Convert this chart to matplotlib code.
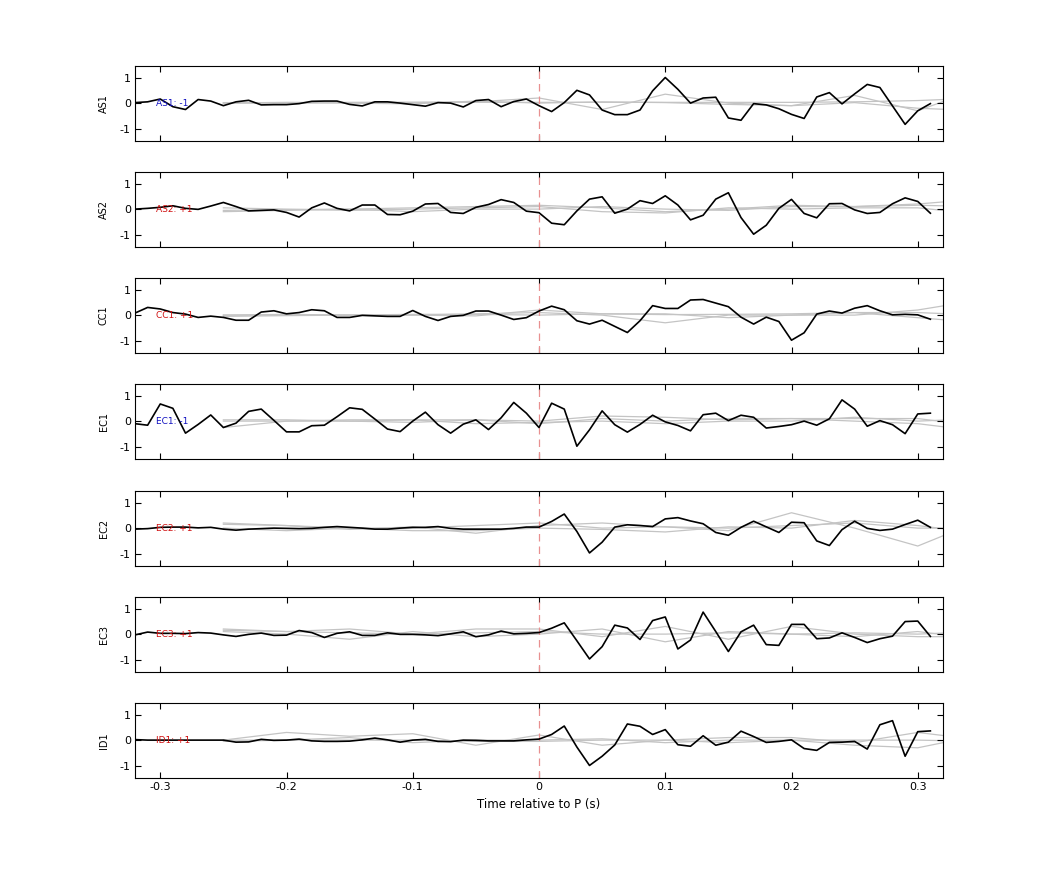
import numpy as np
import matplotlib
matplotlib.use("Agg")
import matplotlib.pyplot as plt

t = np.round(np.arange(-0.32, 0.315, 0.01), 2)  # 64 samples
knots = np.round(np.arange(-0.25, 0.351, 0.05), 2)

names = ["AS1", "AS2", "CC1", "EC1", "EC2", "EC3", "ID1"]
labels = ["AS1: -1", "AS2: +1", "CC1: +1", "EC1: -1", "EC2: +1", "EC3: +1", "ID1: +1"]
label_colors = ["#1010c0", "#d01010", "#d01010", "#1010c0", "#d01010", "#d01010", "#d01010"]

AS1 = [0.02, 0.05, 0.16, -0.14, -0.25, 0.14, 0.08, -0.1, 0.05, 0.11, -0.07, -0.06, -0.06, -0.02, 0.07, 0.08,
       0.08, -0.05, -0.11, 0.05, 0.05, 0.0, -0.06, -0.12, 0.02, 0.0, -0.15, 0.1, 0.14, -0.14, 0.06, 0.16,
       -0.1, -0.33, 0.02, 0.5, 0.32, -0.27, -0.45, -0.45, -0.27, 0.48, 1.0, 0.54, 0.0, 0.2, 0.23, -0.58,
       -0.67, -0.02, -0.07, -0.22, -0.44, -0.6, 0.24, 0.41, -0.03, 0.36, 0.73, 0.61, -0.11, -0.83, -0.3, -0.02]
AS2 = [0.0, 0.03, 0.07, 0.13, 0.03, -0.01, 0.12, 0.26, 0.1, -0.07, -0.05, -0.03, -0.13, -0.31, 0.05, 0.24,
       0.03, -0.07, 0.16, 0.16, -0.21, -0.22, -0.08, 0.2, 0.22, -0.13, -0.17, 0.07, 0.18, 0.37, 0.26, -0.08,
       -0.14, -0.55, -0.61, -0.07, 0.39, 0.48, -0.16, 0.0, 0.33, 0.22, 0.52, 0.16, -0.42, -0.24, 0.39, 0.64,
       -0.33, -0.98, -0.63, 0.03, 0.38, -0.17, -0.34, 0.21, 0.22, -0.03, -0.17, -0.13, 0.21, 0.44, 0.3, -0.16]
CC1 = [0.08, 0.3, 0.24, 0.1, 0.04, -0.09, -0.04, -0.09, -0.2, -0.2, 0.12, 0.17, 0.05, 0.1, 0.21, 0.17,
       -0.09, -0.09, -0.01, -0.03, -0.05, -0.05, 0.18, -0.05, -0.21, -0.05, -0.01, 0.16, 0.16, 0.0, -0.17, -0.1,
       0.16, 0.35, 0.21, -0.22, -0.35, -0.2, -0.44, -0.68, -0.22, 0.37, 0.26, 0.26, 0.59, 0.61, 0.47, 0.33,
       -0.08, -0.35, -0.08, -0.25, -0.98, -0.69, 0.04, 0.16, 0.08, 0.27, 0.37, 0.17, 0.01, 0.03, 0.01, -0.16]
EC1 = [-0.1, -0.16, 0.67, 0.5, -0.47, -0.13, 0.24, -0.25, -0.08, 0.38, 0.47, 0.03, -0.42, -0.42, -0.18, -0.16,
       0.17, 0.52, 0.46, 0.08, -0.31, -0.41, 0.0, 0.35, -0.14, -0.47, -0.12, 0.05, -0.33, 0.13, 0.73, 0.31,
       -0.25, 0.7, 0.47, -0.98, -0.34, 0.4, -0.14, -0.43, -0.13, 0.23, -0.03, -0.17, -0.38, 0.25, 0.31, 0.02,
       0.23, 0.15, -0.27, -0.21, -0.14, 0.0, -0.16, 0.09, 0.83, 0.47, -0.2, 0.02, -0.14, -0.49, 0.28, 0.31]
EC2 = [-0.04, -0.02, 0.03, 0.04, 0.04, 0.01, 0.03, -0.04, -0.08, -0.04, -0.02, 0.0, -0.01, -0.02, -0.01, 0.03,
       0.06, 0.03, 0.0, -0.04, -0.04, 0.0, 0.03, 0.03, 0.06, -0.01, -0.04, -0.04, -0.04, -0.04, -0.01, 0.04,
       0.04, 0.26, 0.55, -0.13, -0.97, -0.55, 0.04, 0.13, 0.1, 0.06, 0.36, 0.41, 0.28, 0.17, -0.17, -0.28,
       0.03, 0.27, 0.05, -0.17, 0.23, 0.21, -0.5, -0.68, -0.06, 0.27, -0.01, -0.09, -0.04, 0.14, 0.31, 0.03]
EC3 = [-0.03, 0.08, 0.03, 0.03, 0.02, 0.06, 0.04, -0.03, -0.09, -0.01, 0.04, -0.05, -0.04, 0.14, 0.06, -0.13,
       0.03, 0.09, -0.05, -0.05, 0.05, -0.01, -0.01, -0.03, -0.06, 0.01, 0.09, -0.1, -0.03, 0.12, 0.01, 0.03,
       0.06, 0.23, 0.44, -0.26, -0.97, -0.49, 0.35, 0.24, -0.21, 0.53, 0.67, -0.58, -0.23, 0.86, 0.1, -0.68,
       0.09, 0.35, -0.41, -0.44, 0.38, 0.38, -0.18, -0.15, 0.05, -0.13, -0.33, -0.18, -0.08, 0.49, 0.51, -0.09]
ID1 = [0.02, 0.0, 0.0, 0.0, 0.0, 0.0, 0.0, 0.0, -0.08, -0.07, 0.03, -0.01, 0.0, 0.04, -0.03, -0.05,
       -0.05, -0.04, 0.01, 0.08, 0.01, -0.08, 0.0, 0.03, -0.05, -0.06, 0.0, -0.01, -0.03, -0.03, -0.03, 0.01,
       0.04, 0.22, 0.55, -0.27, -0.99, -0.63, -0.19, 0.63, 0.54, 0.22, 0.41, -0.18, -0.24, 0.17, -0.2, -0.08,
       0.35, 0.14, -0.09, -0.05, 0.01, -0.33, -0.4, -0.09, -0.08, -0.05, -0.35, 0.6, 0.76, -0.63, 0.33, 0.36]
black_series = [AS1, AS2, CC1, EC1, EC2, EC3, ID1]

# gray reference curves, values at knots (-0.25 ... 0.35 step 0.05)
gray_AS1 = [[0.0, 0.0, 0.02, 0.03, 0.05, 0.2, -0.25, 0.35, 0.0, -0.1, 0.3, -0.3, 0.6],
            [0.0, 0.03, 0.0, -0.03, 0.08, 0.0, 0.05, 0.02, -0.05, -0.1, 0.02, -0.2, -0.3],
            [0.02, 0.02, 0.03, 0.03, 0.03, 0.03, 0.03, 0.03, 0.03, 0.03, 0.05, 0.1, 0.2]]
gray_AS2 = [[-0.05, -0.02, 0.0, 0.05, 0.1, 0.15, 0.05, -0.1, 0.0, 0.15, 0.1, 0.2, 0.4],
            [0.05, 0.0, -0.05, 0.0, 0.05, 0.1, -0.1, -0.15, 0.05, 0.0, 0.05, 0.05, -0.2],
            [-0.1, -0.05, 0.0, -0.1, 0.0, 0.0, 0.1, 0.0, -0.05, 0.1, 0.1, 0.15, 0.1]]
gray_CC1 = [[0.0, 0.0, 0.0, 0.0, 0.05, 0.1, 0.0, -0.3, 0.0, 0.0, 0.0, 0.2, 0.6],
            [0.0, 0.03, 0.0, 0.0, -0.03, 0.2, 0.05, 0.02, 0.03, 0.05, 0.1, -0.1, -0.3],
            [-0.05, -0.02, 0.0, 0.03, 0.03, 0.0, 0.05, 0.05, -0.1, 0.0, 0.1, 0.1, 0.0]]
gray_EC1 = [[-0.25, 0.0, 0.05, 0.05, 0.05, 0.0, 0.2, 0.15, 0.05, 0.1, 0.0, -0.1, -0.4],
            [0.0, 0.0, 0.0, -0.05, 0.05, -0.1, 0.1, 0.0, 0.1, 0.1, 0.1, 0.1, -0.2],
            [0.05, 0.05, 0.0, 0.05, -0.1, -0.05, 0.0, -0.1, 0.0, 0.0, 0.15, 0.0, 0.1]]
gray_EC2 = [[0.2, 0.1, -0.05, 0.05, -0.2, 0.1, 0.2, 0.05, -0.1, 0.6, 0.0, -0.7, 0.3],
            [0.0, -0.1, 0.0, -0.1, -0.1, 0.0, -0.05, -0.15, 0.05, 0.0, 0.3, 0.1, -0.2],
            [0.15, 0.1, 0.0, 0.0, 0.1, 0.2, 0.0, 0.05, 0.0, 0.1, 0.2, 0.0, 0.0]]
gray_EC3 = [[0.2, 0.1, 0.2, 0.0, 0.2, 0.2, -0.1, 0.3, -0.2, 0.3, 0.0, -0.1, -0.1],
            [0.1, 0.0, -0.2, 0.1, -0.1, 0.0, 0.2, -0.3, 0.1, 0.0, -0.1, 0.1, -0.2],
            [0.15, 0.1, 0.05, 0.0, 0.05, 0.1, 0.0, 0.0, 0.05, 0.0, 0.05, 0.0, 0.1]]
gray_ID1 = [[0.0, 0.3, 0.15, 0.25, -0.2, 0.2, -0.2, 0.0, 0.1, 0.1, -0.1, 0.3, 0.0],
            [0.0, 0.0, 0.1, -0.1, 0.0, 0.0, 0.05, -0.1, 0.0, 0.0, -0.2, -0.3, 0.2],
            [-0.05, 0.0, 0.0, 0.0, -0.05, -0.05, 0.0, 0.0, -0.1, 0.0, 0.0, 0.0, -0.05]]
gray_series = [gray_AS1, gray_AS2, gray_CC1, gray_EC1, gray_EC2, gray_EC3, gray_ID1]

xticks = [-0.3, -0.2, -0.1, 0, 0.1, 0.2, 0.3]
xticklabels = ["-0.3", "-0.2", "-0.1", "0", "0.1", "0.2", "0.3"]
yticks = [-1, 0, 1]

W, H = 1042, 875
fig = plt.figure(figsize=(W / 100, H / 100), dpi=100)
left, right = 135 / W, 943 / W
tops = [66, 172, 278, 384, 491, 597, 703]
ph = 75
for i in range(7):
    ax = fig.add_axes([left, 1 - (tops[i] + ph) / H, right - left, ph / H])
    for g in gray_series[i]:
        ax.plot(knots, g, color="#c4c4c4", lw=0.9, zorder=1)
    ax.plot(t, black_series[i], color="black", lw=1.2, zorder=3)
    ax.axvline(0, color="#e89090", lw=0.9, ls=(0, (6, 4)), zorder=2)
    ax.text(-0.303, 0, labels[i], color=label_colors[i], fontsize=6.5, va="center", ha="left", zorder=4)
    ax.set_xlim(-0.32, 0.32)
    ax.set_ylim(-1.48, 1.45)
    ax.set_yticks(yticks)
    ax.set_yticklabels(["-1", "0", "1"], fontsize=8)
    ax.set_xticks(xticks)
    ax.tick_params(direction="in", top=True, right=True, length=4, width=0.8, pad=3)
    if i == 6:
        ax.set_xticklabels(xticklabels, fontsize=8)
        ax.set_xlabel("Time relative to P (s)", fontsize=8.5)
    else:
        ax.set_xticklabels([])
    ax.set_ylabel(names[i], fontsize=7, labelpad=8)
    for s in ax.spines.values():
        s.set_linewidth(0.8)

fig.savefig("out.png", dpi=100)
